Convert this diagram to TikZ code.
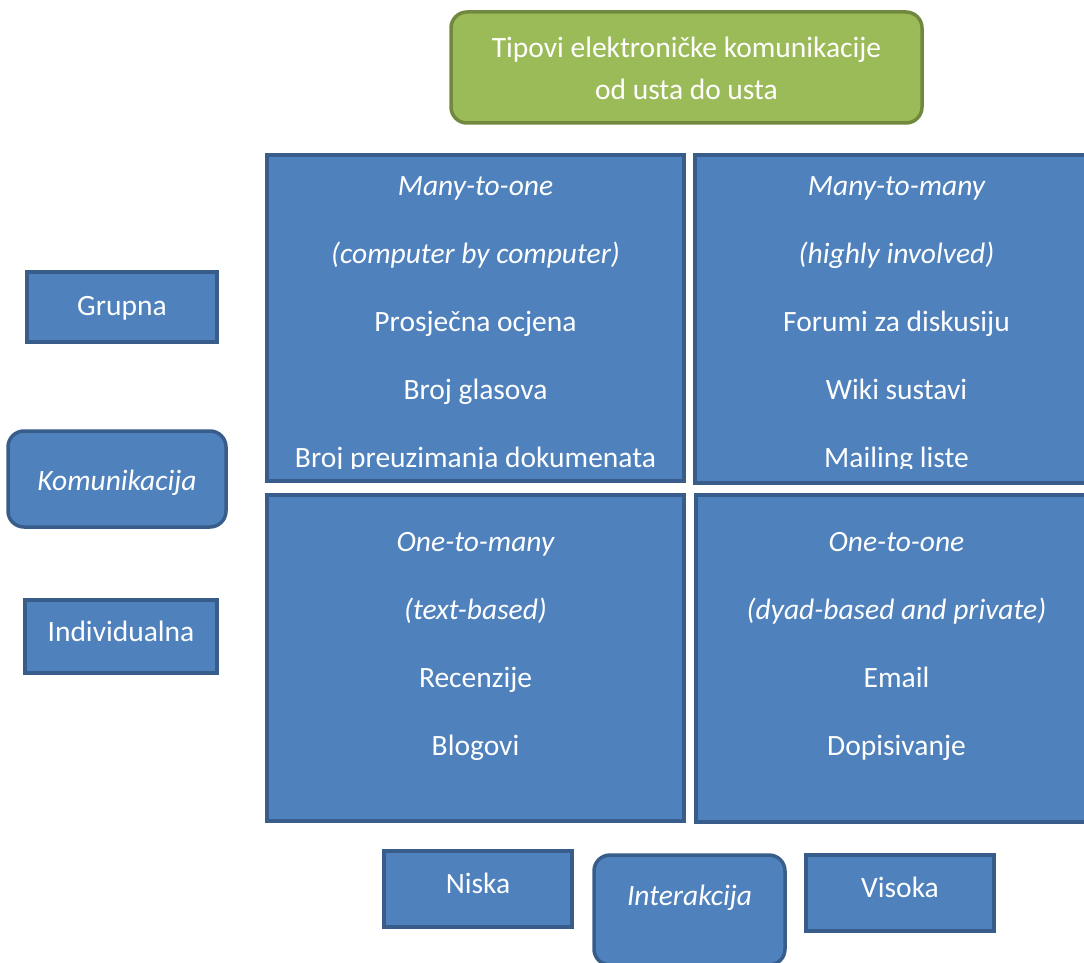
\documentclass[tikz,border=0pt]{standalone}
\usepackage{fontspec}
\setmainfont{Carlito}
\definecolor{bfill}{HTML}{4F81BD}
\definecolor{bline}{HTML}{385D8A}
\definecolor{gfill}{HTML}{9BBB59}
\definecolor{gline}{HTML}{71893F}
\tikzset{
  bbox/.style={draw=bline, fill=bfill, line width=3.5pt, inner sep=0pt},
  gbox/.style={draw=gline, fill=gfill, line width=3.5pt, inner sep=0pt, rounded corners=16pt},
  rbox/.style={bbox, rounded corners=16pt},
  txt/.style={text=white, font=\fontsize{29.5}{36}\selectfont, inner sep=0pt, anchor=base},
  itxt/.style={txt, font=\fontsize{29.5}{36}\selectfont\itshape},
}
\begin{document}
\begin{tikzpicture}[x=1pt,y=-1pt]
\useasboundingbox (0,0) rectangle (1084,963);
\clip (0,0) rectangle (1084,963);
% title
\node[gbox, minimum width=471pt, minimum height=111pt] (title) at (686.5,67.5) {};
\node[txt] (title1) at (686.5,58) {Tipovi elektroničke komunikacije};
\node[txt] (title2) at (686.5,99.5) {od usta do usta};
% quadrants
\node[bbox, minimum width=417pt, minimum height=326pt] (tl) at (475.5,318) {};
\node[bbox, minimum width=403pt, minimum height=328pt] (tr) at (896.5,319) {};
\node[bbox, minimum width=417pt, minimum height=326pt] (bl) at (475.5,658) {};
\node[bbox, minimum width=402pt, minimum height=327pt] (br) at (897,658.5) {};
\begin{scope}
\clip (0,0) rectangle (1084,468);
\node[itxt] (tl1) at (475.5,195) {Many-to-one};
\node[itxt] (tl2) at (475.5,263) {(computer by computer)};
\node[txt] (tl3) at (475.5,331) {Prosječna ocjena};
\node[txt] (tl4) at (475.5,399) {Broj glasova};
\node[txt] (tl5) at (475.5,467) {Broj preuzimanja dokumenata};
\node[itxt] (tr1) at (896.5,195) {Many-to-many};
\node[itxt] (tr2) at (896.5,263) {(highly involved)};
\node[txt] (tr3) at (896.5,331) {Forumi za diskusiju};
\node[txt] (tr4) at (896.5,399) {Wiki sustavi};
\node[txt] (tr5) at (896.5,467) {Mailing liste};
\end{scope}
\node[itxt] (bl1) at (475.5,551) {One-to-many};
\node[itxt] (bl2) at (475.5,619) {(text-based)};
\node[txt] (bl3) at (475.5,687) {Recenzije};
\node[txt] (bl4) at (475.5,755) {Blogovi};
\node[itxt] (br1) at (896.5,551) {One-to-one};
\node[itxt] (br2) at (896.5,619) {(dyad-based and private)};
\node[txt] (br3) at (896.5,687) {Email};
\node[txt] (br4) at (896.5,755) {Dopisivanje};
% left axis
\node[bbox, minimum width=190pt, minimum height=70pt] (grupna) at (122,307) {};
\node[txt] (grupnatxt) at (122,315) {Grupna};
\node[rbox, minimum width=218pt, minimum height=96pt] (kom) at (117,479) {};
\node[itxt] (komtxt) at (117,490) {Komunikacija};
\node[bbox, minimum width=192pt, minimum height=73pt] (ind) at (121,636.5) {};
\node[txt] (indtxt) at (121,641) {Individualna};
% bottom axis
\node[bbox, minimum width=188pt, minimum height=76pt] (niska) at (478,889) {};
\node[txt] (niskatxt) at (478,893) {Niska};
\node[rbox, minimum width=191pt, minimum height=110pt] (inter) at (689.5,910) {};
\node[itxt] (intertxt) at (689.5,905) {Interakcija};
\node[bbox, minimum width=188pt, minimum height=76pt] (visoka) at (900,893) {};
\node[txt] (visokatxt) at (900,897) {Visoka};
\end{tikzpicture}
\end{document}
